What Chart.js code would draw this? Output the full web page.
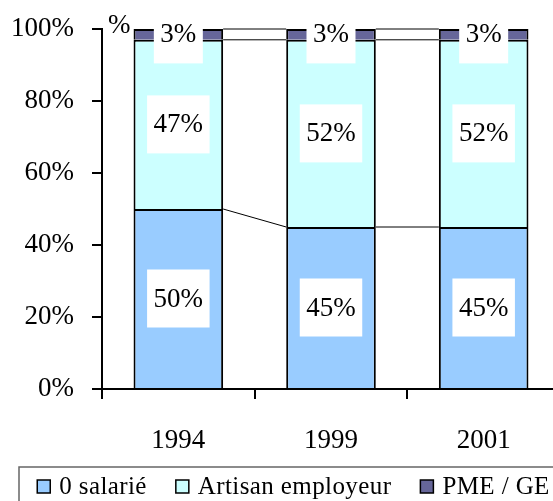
<!DOCTYPE html>
<html lang="fr">
<head>
<meta charset="UTF-8">
<title>Répartition des entreprises</title>
<script src="https://cdn.jsdelivr.net/npm/chart.js"></script>
<style>
  html, body { margin: 0; padding: 0; background: #fff; overflow: hidden; }
  #wrap { width: 587px; height: 501px; }
</style>
</head>
<body>
<div id="wrap"><canvas id="chart" width="587" height="501"></canvas></div>
<script>
const categories = ['1994', '1999', '2001'];
const seriesNames = ['0 salarié', 'Artisan employeur', 'PME / GE'];
const zeroSalarie = [50, 45, 45];
const artisanEmployeur = [47, 52, 52];
const pmeGe = [3, 3, 3];
const yTickLabels = ['0%', '20%', '40%', '60%', '80%', '100%'];
const unitLabel = '%';

const colors = ['#99ccff', '#ccffff', '#666699'];
const FONT = '"Liberation Serif", "Times New Roman", serif';

// lines joining the tops of each series from one bar to the next
const seriesLines = {
    id: 'seriesLines',
    afterDatasetsDraw(chart) {
        const ctx = chart.ctx;
        ctx.save();
        ctx.strokeStyle = '#000';
        ctx.lineWidth = 1;
        chart.data.datasets.forEach((ds, d) => {
            const bars = chart.getDatasetMeta(d).data;
            for (let i = 0; i < bars.length - 1; i++) {
                const a = bars[i], b = bars[i + 1];
                ctx.beginPath();
                ctx.moveTo(a.x + a.width / 2, a.y);
                ctx.lineTo(b.x - b.width / 2, b.y);
                ctx.stroke();
            }
        });
        ctx.restore();
    }
};

// white boxed value labels in the middle of each segment
const boxLabels = {
    id: 'boxLabels',
    afterDatasetsDraw(chart) {
        const ctx = chart.ctx;
        ctx.save();
        ctx.font = '27px ' + FONT;
        ctx.textAlign = 'center';
        ctx.textBaseline = 'middle';
        chart.data.datasets.forEach((ds, d) => {
            chart.getDatasetMeta(d).data.forEach((bar, i) => {
                const txt = ds.data[i] + '%';
                const cy = (bar.y + bar.base) / 2;
                const w = ctx.measureText(txt).width + 13;
                const h = 58;
                ctx.fillStyle = '#fff';
                ctx.fillRect(bar.x - w / 2, cy - h / 2, w, h);
                ctx.fillStyle = '#000';
                ctx.fillText(txt, bar.x, cy + 1);
            });
        });
        // unit mark at the top of the value axis
        const area = chart.chartArea;
        ctx.textAlign = 'left';
        ctx.fillText(unitLabel, area.left + 6, area.top - 3);
        ctx.restore();
    }
};

// legend drawn in a framed box at the bottom
const boxLegend = {
    id: 'boxLegend',
    afterDraw(chart) {
        const ctx = chart.ctx;
        ctx.save();
        ctx.strokeStyle = '#666';
        ctx.lineWidth = 1.5;
        ctx.strokeRect(19, 467, 549, 60);
        ctx.font = '25px ' + FONT;
        ctx.letterSpacing = '0.4px';
        ctx.textBaseline = 'alphabetic';
        const sw = 13, gap = 9, space = 29;
        const items = chart.data.datasets.map(ds => ({
            label: ds.label, color: ds.backgroundColor,
            w: sw + gap + ctx.measureText(ds.label).width
        }));
        const total = items.reduce((s, it) => s + it.w, 0) + space * (items.length - 1);
        let x = chart.width / 2 - total / 2;
        items.forEach(it => {
            ctx.fillStyle = it.color;
            ctx.fillRect(x, 480, sw, sw);
            ctx.lineWidth = 1.5;
            ctx.strokeStyle = '#000';
            ctx.strokeRect(x, 480, sw, sw);
            ctx.fillStyle = '#000';
            ctx.fillText(it.label, x + sw + gap, 494);
            x += it.w + space;
        });
        ctx.restore();
    }
};

const seriesValues = [zeroSalarie, artisanEmployeur, pmeGe];

new Chart(document.getElementById('chart'), {
    type: 'bar',
    data: {
        labels: categories,
        datasets: seriesValues.map((vals, k) => ({
            label: seriesNames[k],
            data: vals,
            backgroundColor: colors[k],
            borderColor: '#000',
            borderWidth: 2,
            barPercentage: 0.587,
            categoryPercentage: 1
        }))
    },
    options: {
        responsive: false,
        devicePixelRatio: 1,
        animation: false,
        layout: { padding: { left: 10, top: 29, right: 27, bottom: 0 } },
        plugins: {
            legend: { display: false },
            tooltip: { enabled: false }
        },
        scales: {
            x: {
                stacked: true,
                afterFit(scale) { scale.height = 112; },
                grid: {
                    drawOnChartArea: false,
                    drawTicks: true,
                    tickLength: 10,
                    color: '#000',
                    lineWidth: 2
                },
                border: { display: true, color: '#000', width: 2 },
                ticks: {
                    color: '#000',
                    padding: 26,
                    font: { family: FONT, size: 27 }
                }
            },
            y: {
                stacked: true,
                min: 0,
                max: 100,
                afterFit(scale) { scale.width = 92; },
                grid: {
                    drawOnChartArea: false,
                    drawTicks: true,
                    tickLength: 10,
                    color: '#000',
                    lineWidth: 2
                },
                border: { display: true, color: '#000', width: 2 },
                ticks: {
                    stepSize: 20,
                    color: '#000',
                    padding: 18,
                    font: { family: FONT, size: 27, lineHeight: 0.6 },
                    callback: (v) => yTickLabels[v / 20]
                }
            }
        }
    },
    plugins: [seriesLines, boxLabels, boxLegend]
});
</script>
</body>
</html>
